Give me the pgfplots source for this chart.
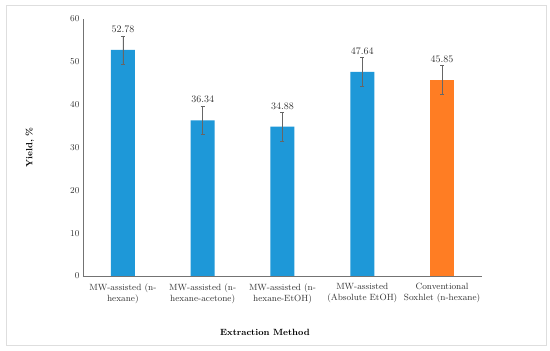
\documentclass[border=0pt]{standalone}
\usepackage{pgfplots}
\pgfplotsset{compat=1.18}
\definecolor{barblue}{RGB}{30,152,216}
\definecolor{barorange}{RGB}{255,125,35}
\begin{document}
\begin{tikzpicture}[x=1pt,y=1pt]
\fill[white] (-83,-75) rectangle (467,276);
\draw[black!13] (-77,-69) rectangle (463,271);
\begin{axis}[
  at={(0,0)}, anchor=south west,
  scale only axis, width=399pt, height=257pt,
  ymin=0, ymax=60, xmin=-0.5, xmax=4.5,
  ytick={0,10,...,60},
  xtick={0,1,2,3,4},
  xticklabels={{MW-assisted (n-\\hexane)},{MW-assisted (n-\\hexane-acetone)},{MW-assisted (n-\\hexane-EtOH)},{MW-assisted\\(Absolute EtOH)},{Conventional\\Soxhlet (n-hexane)}},
  xticklabel style={align=center, font=\small, text=black!80, yshift=-4pt},
  yticklabel style={font=\small, text=black!80},
  major tick length=0pt,
  axis lines*=left,
  axis line style={black!55, line width=0.6pt},
  ybar, bar width=24pt, bar shift=0pt,
  xlabel={\textbf{Extraction Method}},
  ylabel={\textbf{Yield, \%}},
  xlabel style={at={(axis description cs:0.456,-0.218)}, anchor=center, font=\small},
  ylabel style={at={(axis description cs:-0.133,0.5)}, anchor=center, font=\small},
  nodes near coords,
  nodes near coords style={font=\normalsize, text=black!80, yshift=14pt, /pgf/number format/fixed, /pgf/number format/precision=2, /pgf/number format/fixed zerofill},
  clip=false,
]
\addplot[fill=barblue, draw=none,
  error bars/.cd, y dir=both, y explicit,
  error bar style={black!60, line width=0.5pt},
  error mark options={rotate=90, mark size=2pt, black!60, line width=0.5pt}]
  coordinates {(0,52.78) +- (0,3.3) (1,36.34) +- (0,3.3) (2,34.88) +- (0,3.4) (3,47.64) +- (0,3.4)};
\addplot[fill=barorange, draw=none,
  error bars/.cd, y dir=both, y explicit,
  error bar style={black!60, line width=0.5pt},
  error mark options={rotate=90, mark size=2pt, black!60, line width=0.5pt}]
  coordinates {(4,45.85) +- (0,3.4)};
\end{axis}
\end{tikzpicture}
\end{document}
